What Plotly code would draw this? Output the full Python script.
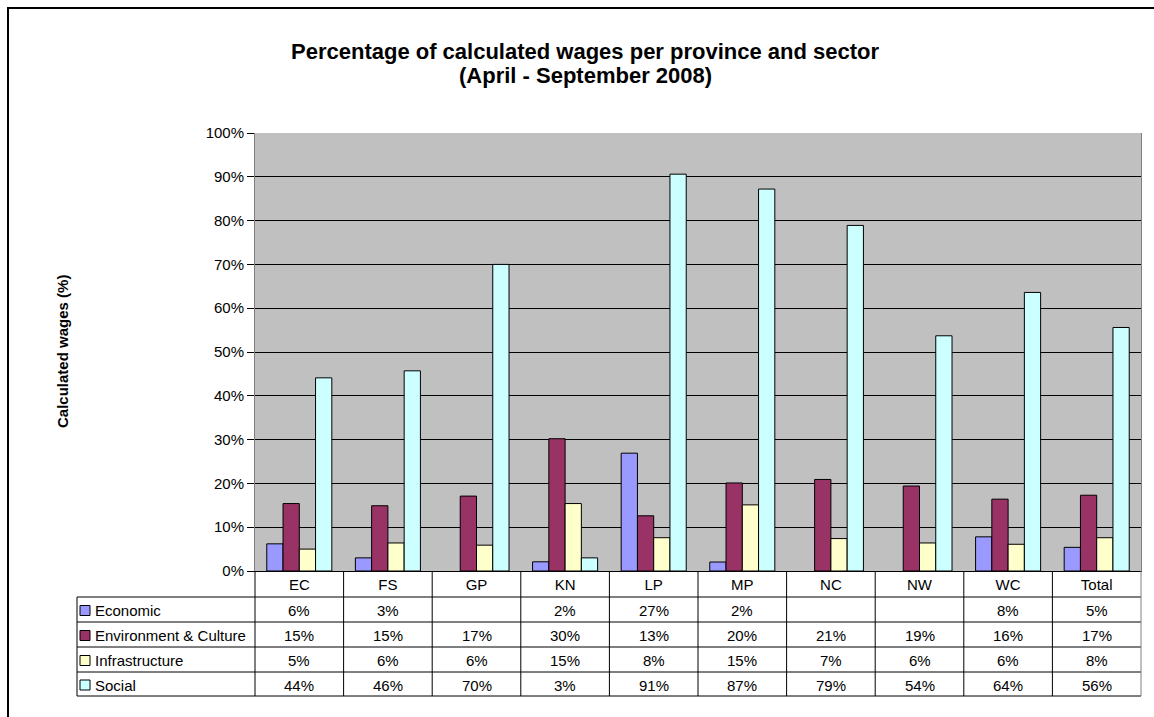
import plotly.graph_objects as go

# Datos del gráfico (porcentajes)
provinces = ["EC", "FS", "GP", "KN", "LP", "MP", "NC", "NW", "WC", "Total"]
sectors = ["Economic", "Environment & Culture", "Infrastructure", "Social"]
economic = [6.2, 3.0, None, 2.1, 26.9, 2.05, None, None, 7.8, 5.4]
environment = [15.4, 14.9, 17.1, 30.2, 12.6, 20.1, 20.9, 19.4, 16.4, 17.3]
infrastructure = [5.0, 6.4, 5.9, 15.4, 7.6, 15.1, 7.4, 6.4, 6.1, 7.6]
social = [44.1, 45.7, 70.0, 3.0, 90.6, 87.2, 78.9, 53.7, 63.6, 55.6]
y_ticks = [0, 10, 20, 30, 40, 50, 60, 70, 80, 90, 100]

series = [economic, environment, infrastructure, social]
colors = ["#9999FF", "#993366", "#FFFFCC", "#CCFFFF"]

FONT = "Liberation Sans, Arial, sans-serif"
W, H = 1154, 717
L, R, T, B = 255, 1141, 133, 571


def px(x):
    return (x - L) / (R - L)


def py(y):
    return (B - y) / (B - T)


fig = go.Figure()
for name, vals, col in zip(sectors, series, colors):
    fig.add_trace(go.Bar(x=provinces, y=vals, name=name, marker_color=col,
                         marker_line_color="black", marker_line_width=1))

shapes = []
annotations = []

# Marco exterior
shapes.append(dict(type="rect", xref="paper", yref="paper", x0=px(8), x1=px(1170),
                   y0=py(8), y1=py(740), line=dict(color="black", width=2)))

# Tabla de datos bajo el eje
row_edges = [597, 622, 647, 672, 696]
ncol = len(provinces)
colw = (R - L) / ncol
for y in row_edges:
    shapes.append(dict(type="line", xref="paper", yref="paper", x0=px(77), x1=px(R),
                       y0=py(y), y1=py(y), line=dict(color="black", width=1)))
for k in range(ncol + 1):
    x = L + k * colw
    shapes.append(dict(type="line", xref="paper", yref="paper", x0=px(x), x1=px(x),
                       y0=py(B), y1=py(696),
                       line=dict(color="#808080" if k == ncol else "black", width=1)))
shapes.append(dict(type="line", xref="paper", yref="paper", x0=px(77), x1=px(77),
                   y0=py(597), y1=py(696), line=dict(color="black", width=1)))

for i, (name, vals, col) in enumerate(zip(sectors, series, colors)):
    yc = (row_edges[i] + row_edges[i + 1]) / 2
    shapes.append(dict(type="rect", xref="paper", yref="paper", x0=px(80), x1=px(90),
                       y0=py(yc - 4), y1=py(yc + 6), fillcolor=col,
                       line=dict(color="black", width=1)))
    annotations.append(dict(text=name, xref="paper", yref="paper", x=px(93), y=py(yc + 1),
                            xanchor="left", yanchor="middle", showarrow=False,
                            font=dict(family=FONT, size=15, color="black")))
    for j, v in enumerate(vals):
        if v is None:
            continue
        annotations.append(dict(text=f"{round(v)}%", xref="paper", yref="paper",
                                x=px(L + (j + 0.5) * colw), y=py(yc + 1),
                                xanchor="center", yanchor="middle", showarrow=False,
                                font=dict(family=FONT, size=15, color="black")))

# Títulos
annotations.append(dict(text="<b>Percentage of calculated wages per province and sector</b>",
                        xref="paper", yref="paper", x=px(585), y=py(51),
                        xanchor="center", yanchor="middle", showarrow=False,
                        font=dict(family=FONT, size=22, color="black")))
annotations.append(dict(text="<b>(April - September 2008)</b>",
                        xref="paper", yref="paper", x=px(585), y=py(76),
                        xanchor="center", yanchor="middle", showarrow=False,
                        font=dict(family=FONT, size=22, color="black")))
annotations.append(dict(text="<b>Calculated wages (%)</b>", xref="paper", yref="paper",
                        x=px(62), y=py(352), textangle=-90, xanchor="center",
                        yanchor="middle", showarrow=False,
                        font=dict(family=FONT, size=15, color="black")))

fig.update_layout(
    width=W, height=H,
    margin=dict(l=L, r=W - R, t=T, b=H - B, pad=0),
    paper_bgcolor="white", plot_bgcolor="#C0C0C0",
    barmode="group", bargap=0.266, bargroupgap=0,
    showlegend=False,
    shapes=shapes, annotations=annotations,
    font=dict(family=FONT, size=15, color="black"),
)
fig.update_yaxes(range=[0, 100], tickvals=y_ticks, ticktext=[f"{v}%" for v in y_ticks],
                 showgrid=True, gridcolor="black", gridwidth=1,
                 ticks="outside", ticklen=7, tickcolor="black",
                 showline=True, linecolor="#808080", linewidth=1, mirror=True,
                 zeroline=False, tickfont=dict(family=FONT, size=15, color="black"))
fig.update_xaxes(showline=True, linecolor="black", linewidth=1, ticks="",
                 showgrid=False, tickfont=dict(family=FONT, size=15, color="black"))

fig.write_html("out.html", config={"displayModeBar": False},
               post_script="document.body.style.margin='0';")
